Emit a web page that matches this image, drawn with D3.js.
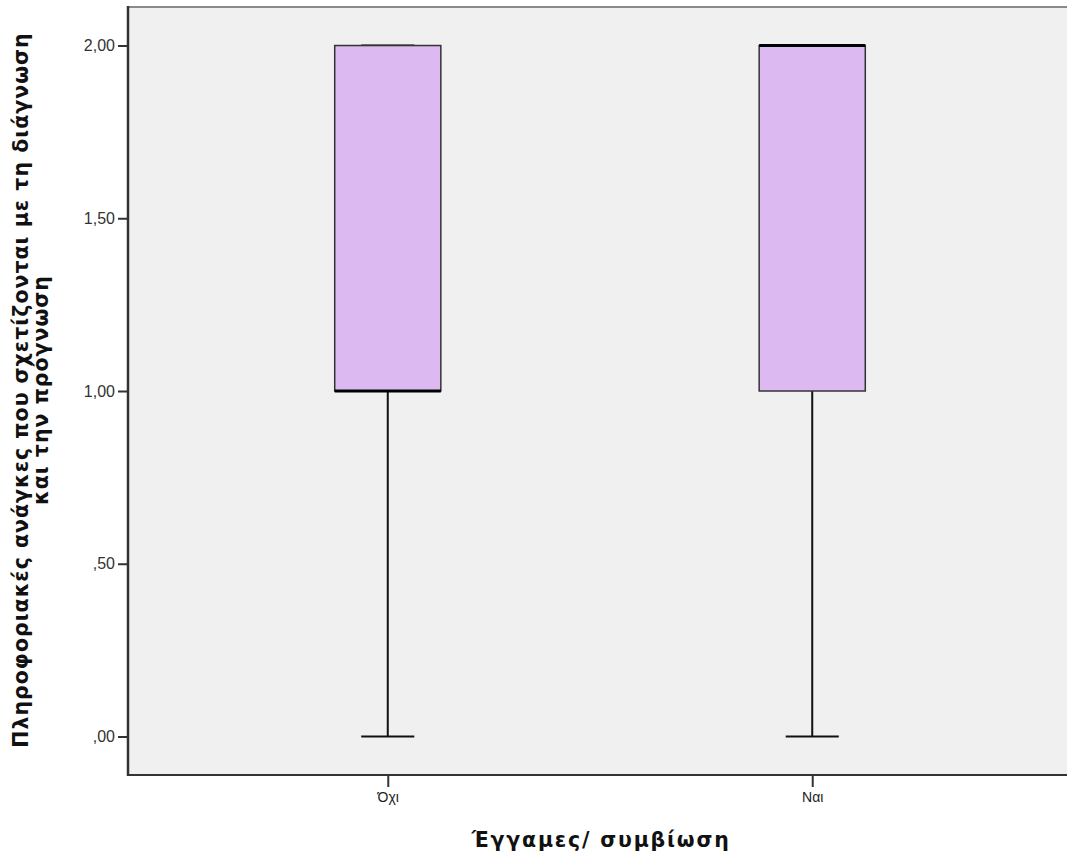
<!DOCTYPE html>
<html>
<head>
<meta charset="utf-8">
<script src="https://cdn.jsdelivr.net/npm/d3@7"></script>
<style>
  html, body { margin: 0; padding: 0; background: #ffffff; }
  svg { display: block; }
</style>
</head>
<body>
<svg id="chart" width="1067" height="857"></svg>
<script>
// Box plot summary per group
const categories = ["Όχι", "Ναι"];
const whiskerLow = [0, 0];
const q1 = [1, 1];
const median = [1, 2];
const q3 = [2, 2];
const whiskerHigh = [2, 2];

const yTicks = [0, 0.5, 1, 1.5, 2];
const yTickLabels = [",00", ",50", "1,00", "1,50", "2,00"];

const yTitleLines = ["Πληροφοριακές ανάγκες που σχετίζονται με τη διάγνωση", "και την πρόγνωση"];
const xTitle = "Έγγαμες/ συμβίωση";

const width = 1067, height = 857;
const plot = { left: 128, right: 1072, top: 7, bottom: 775 };

const svg = d3.select("#chart");

const x = d3.scalePoint()
  .domain(categories)
  .range([plot.left, plot.right])
  .padding(0.612);

const y = d3.scaleLinear()
  .domain([-0.1115, 2.1115])
  .range([plot.bottom, plot.top]);

const step = x.step();
const boxW = step * 0.25;
const capW = boxW / 2;

// plot background
svg.append("rect")
  .attr("x", plot.left).attr("y", plot.top)
  .attr("width", plot.right - plot.left).attr("height", plot.bottom - plot.top)
  .attr("fill", "#f0f0f0");

// top frame line
svg.append("line")
  .attr("x1", plot.left).attr("x2", plot.right)
  .attr("y1", plot.top).attr("y2", plot.top)
  .attr("stroke", "#8a8a8a").attr("stroke-width", 2);

// y axis
const yAxis = d3.axisLeft(y)
  .tickValues(yTicks)
  .tickFormat((d, i) => yTickLabels[i])
  .tickSize(10)
  .tickPadding(3);

const gy = svg.append("g")
  .attr("transform", `translate(${plot.left},0)`)
  .call(yAxis);
gy.select(".domain").remove();
gy.selectAll(".tick line").attr("stroke", "#333").attr("stroke-width", 2);
gy.selectAll(".tick text")
  .attr("fill", "#333")
  .style("font-family", "'Liberation Sans', Arial, sans-serif")
  .style("font-size", "16px");

svg.append("line")
  .attr("x1", plot.left).attr("x2", plot.left)
  .attr("y1", plot.top - 1).attr("y2", plot.bottom + 1)
  .attr("stroke", "#333").attr("stroke-width", 2.5);

// x axis
const xAxis = d3.axisBottom(x).tickSize(12).tickPadding(5);
const gx = svg.append("g")
  .attr("transform", `translate(0,${plot.bottom})`)
  .call(xAxis);
gx.select(".domain").remove();
gx.selectAll(".tick line").attr("stroke", "#333").attr("stroke-width", 2);
gx.selectAll(".tick text")
  .attr("fill", "#222")
  .style("font-family", "'Liberation Sans', Arial, sans-serif")
  .style("font-size", "14px");

svg.append("line")
  .attr("x1", plot.left).attr("x2", plot.right)
  .attr("y1", plot.bottom).attr("y2", plot.bottom)
  .attr("stroke", "#333").attr("stroke-width", 2);

// boxes
const data = categories.map((c, i) => ({
  c, lo: whiskerLow[i], q1: q1[i], med: median[i], q3: q3[i], hi: whiskerHigh[i]
}));

const g = svg.append("g");
data.forEach(d => {
  const cx = x(d.c);
  // lower whisker
  g.append("line")
    .attr("x1", cx).attr("x2", cx)
    .attr("y1", y(d.lo)).attr("y2", y(d.q1))
    .attr("stroke", "#111").attr("stroke-width", 2);
  g.append("line")
    .attr("x1", cx - capW / 2).attr("x2", cx + capW / 2)
    .attr("y1", y(d.lo)).attr("y2", y(d.lo))
    .attr("stroke", "#111").attr("stroke-width", 2);
  // upper whisker
  g.append("line")
    .attr("x1", cx).attr("x2", cx)
    .attr("y1", y(d.hi)).attr("y2", y(d.q3))
    .attr("stroke", "#111").attr("stroke-width", 2);
  g.append("line")
    .attr("x1", cx - capW / 2).attr("x2", cx + capW / 2)
    .attr("y1", y(d.hi)).attr("y2", y(d.hi))
    .attr("stroke", "#111").attr("stroke-width", 2);
  // box
  g.append("rect")
    .attr("x", cx - boxW / 2).attr("y", y(d.q3))
    .attr("width", boxW).attr("height", y(d.q1) - y(d.q3))
    .attr("fill", "#dcbaf1")
    .attr("stroke", "#333").attr("stroke-width", 1.5);
  // median
  g.append("line")
    .attr("x1", cx - boxW / 2).attr("x2", cx + boxW / 2)
    .attr("y1", y(d.med)).attr("y2", y(d.med))
    .attr("stroke", "#000").attr("stroke-width", 3);
});

// axis titles
const titleFont = "'DejaVu Sans', sans-serif";
svg.append("text")
  .attr("x", 601).attr("y", 847)
  .attr("text-anchor", "middle")
  .style("font-family", titleFont)
  .style("font-weight", "bold")
  .style("font-size", "20.5px")
  .style("letter-spacing", "1.8px")
  .attr("fill", "#111")
  .text(xTitle);

const yt = svg.append("text")
  .attr("transform", "translate(28,390) rotate(-90)")
  .attr("text-anchor", "middle")
  .style("font-family", titleFont)
  .style("font-weight", "bold")
  .style("font-size", "20.5px")
  .style("letter-spacing", "1px")
  .attr("fill", "#111");
yTitleLines.forEach((t, i) => {
  yt.append("tspan").attr("x", 0).attr("dy", i === 0 ? 0 : 20).text(t);
});
</script>
</body>
</html>
